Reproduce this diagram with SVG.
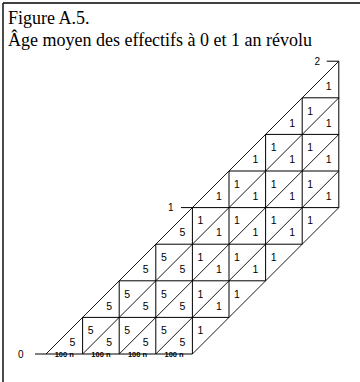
<svg xmlns="http://www.w3.org/2000/svg" width="360" height="382" viewBox="0 0 360 382">
<style>
.frame{stroke:#000;stroke-width:1.4;fill:none}
.g{stroke:#000;stroke-width:1;fill:none}
.d{stroke:#000;stroke-width:0.9;fill:none}
.t{font-family:"Liberation Serif","Times New Roman",serif;font-size:18px;fill:#000}
.n{font-family:"Liberation Sans",Arial,sans-serif;font-size:10.5px;fill:#000;text-anchor:middle}
.a{font-family:"Liberation Sans",Arial,sans-serif;font-size:10px;fill:#000;text-anchor:middle}
.h{font-family:"Liberation Sans",Arial,sans-serif;font-size:7.5px;font-weight:bold;fill:#000;text-anchor:middle}
</style>
<rect width="360" height="382" fill="#fff"/>
<g id="frame">
<line class="frame" x1="3" y1="3" x2="3" y2="382"/>
<line class="frame" x1="3" y1="3" x2="360" y2="3"/>
</g>
<g id="title">
<text class="t" x="8" y="23.5">Figure A.5.</text>
<text class="t" x="8" y="46">Âge moyen des effectifs à 0 et 1 an révolu</text>
</g>
<g id="grid">
<line class="g" x1="35" y1="354" x2="192.4" y2="354"/>
<line class="g" x1="82.6" y1="317.4" x2="229" y2="317.4"/>
<line class="g" x1="119.2" y1="280.8" x2="265.6" y2="280.8"/>
<line class="g" x1="155.8" y1="244.2" x2="302.2" y2="244.2"/>
<line class="g" x1="181" y1="207.6" x2="338.8" y2="207.6"/>
<line class="g" x1="229" y1="171" x2="338.8" y2="171"/>
<line class="g" x1="265.6" y1="134.4" x2="338.8" y2="134.4"/>
<line class="g" x1="302.2" y1="97.8" x2="338.8" y2="97.8"/>
<line class="g" x1="326.7" y1="61.2" x2="338.8" y2="61.2"/>
<line class="g" x1="82.6" y1="354" x2="82.6" y2="317.4"/>
<line class="g" x1="119.2" y1="354" x2="119.2" y2="280.8"/>
<line class="g" x1="155.8" y1="354" x2="155.8" y2="244.2"/>
<line class="g" x1="192.4" y1="354" x2="192.4" y2="207.6"/>
<line class="g" x1="229" y1="317.4" x2="229" y2="171"/>
<line class="g" x1="265.6" y1="280.8" x2="265.6" y2="134.4"/>
<line class="g" x1="302.2" y1="244.2" x2="302.2" y2="97.8"/>
<line class="g" x1="338.8" y1="207.6" x2="338.8" y2="61.2"/>
<line class="d" x1="46" y1="354" x2="338.8" y2="61.2"/>
<line class="d" x1="82.6" y1="354" x2="338.8" y2="97.8"/>
<line class="d" x1="119.2" y1="354" x2="338.8" y2="134.4"/>
<line class="d" x1="155.8" y1="354" x2="338.8" y2="171"/>
<line class="d" x1="192.4" y1="354" x2="338.8" y2="207.6"/>
</g>
<g id="axis-labels">
<text class="a" x="20.7" y="357.6">0</text>
<text class="a" x="170.7" y="210.6">1</text>
<text class="a" x="317.3" y="65">2</text>
<text class="h" x="64.3" y="356.7">100 n</text>
<text class="h" x="100.9" y="356.7">100 n</text>
<text class="h" x="137.5" y="356.7">100 n</text>
<text class="h" x="174.1" y="356.7">100 n</text>
</g>
<g id="values">
<text class="n" x="72.5" y="346.2">5</text>
<text class="n" x="90.6" y="334.2">5</text>
<text class="n" x="109.1" y="346.2">5</text>
<text class="n" x="127.2" y="334.2">5</text>
<text class="n" x="145.7" y="346.2">5</text>
<text class="n" x="163.8" y="334.2">5</text>
<text class="n" x="182.3" y="346.2">5</text>
<text class="n" x="200.4" y="334.2">1</text>
<text class="n" x="109.1" y="309.6">5</text>
<text class="n" x="127.2" y="297.6">5</text>
<text class="n" x="145.7" y="309.6">5</text>
<text class="n" x="163.8" y="297.6">5</text>
<text class="n" x="182.3" y="309.6">5</text>
<text class="n" x="200.4" y="297.6">1</text>
<text class="n" x="218.9" y="309.6">1</text>
<text class="n" x="237" y="297.6">1</text>
<text class="n" x="145.7" y="273">5</text>
<text class="n" x="163.8" y="261">5</text>
<text class="n" x="182.3" y="273">5</text>
<text class="n" x="200.4" y="261">1</text>
<text class="n" x="218.9" y="273">1</text>
<text class="n" x="237" y="261">1</text>
<text class="n" x="255.5" y="273">1</text>
<text class="n" x="273.6" y="261">1</text>
<text class="n" x="182.3" y="236.4">5</text>
<text class="n" x="200.4" y="224.4">1</text>
<text class="n" x="218.9" y="236.4">1</text>
<text class="n" x="237" y="224.4">1</text>
<text class="n" x="255.5" y="236.4">1</text>
<text class="n" x="273.6" y="224.4">1</text>
<text class="n" x="292.1" y="236.4">1</text>
<text class="n" x="310.2" y="224.4">1</text>
<text class="n" x="218.9" y="199.8">1</text>
<text class="n" x="237" y="187.8">1</text>
<text class="n" x="255.5" y="199.8">1</text>
<text class="n" x="273.6" y="187.8">1</text>
<text class="n" x="292.1" y="199.8">1</text>
<text class="n" x="310.2" y="187.8">1</text>
<text class="n" x="328.7" y="199.8">1</text>
<text class="n" x="255.5" y="163.2">1</text>
<text class="n" x="273.6" y="151.2">1</text>
<text class="n" x="292.1" y="163.2">1</text>
<text class="n" x="310.2" y="151.2">1</text>
<text class="n" x="328.7" y="163.2">1</text>
<text class="n" x="292.1" y="126.6">1</text>
<text class="n" x="310.2" y="114.6">1</text>
<text class="n" x="328.7" y="126.6">1</text>
<text class="n" x="328.7" y="90">1</text>
</g>
</svg>
